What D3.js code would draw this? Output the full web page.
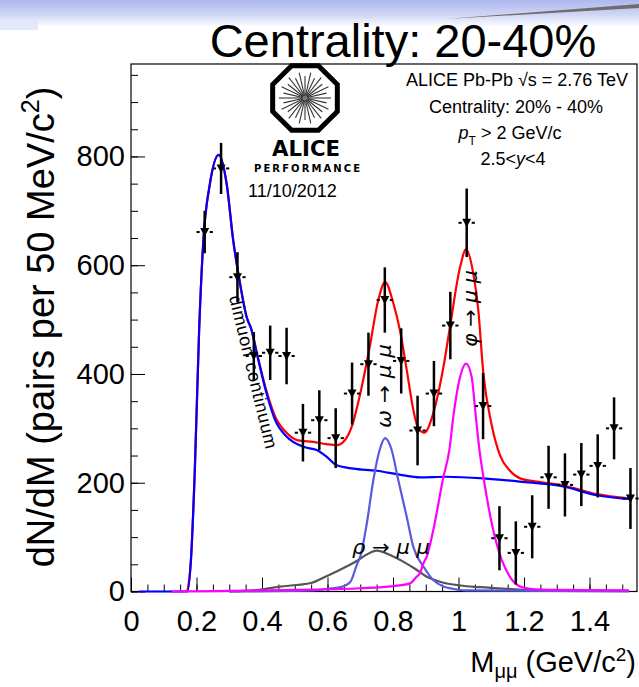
<!DOCTYPE html>
<html>
<head>
<meta charset="utf-8">
<script src="https://cdn.jsdelivr.net/npm/d3@7"></script>
<style>
  body { margin: 0; background: #fff; }
  text { font-family: "Liberation Sans", Arial, Helvetica, sans-serif; fill: #000; }
</style>
</head>
<body>
<svg id="chart"></svg>
<script>
// measured dimuon spectrum, bins of 50 MeV
const massBins = [0.225, 0.275, 0.325, 0.375, 0.425, 0.475, 0.525, 0.575, 0.625, 0.675, 0.725, 0.775, 0.825, 0.875,
                  0.925, 0.975, 1.025, 1.075, 1.125, 1.175, 1.225, 1.275, 1.325, 1.375, 1.425, 1.475, 1.525];
const counts = [661, 778, 578, 433, 439, 433, 292, 315, 282, 364, 418, 536, 424, 296,
                364, 489, 678, 341, 98, 71, 119, 210, 196, 215, 231, 300, 171];
const errors = [39, 47, 46, 44, 50, 52, 53, 55, 55, 57, 58, 60, 60, 64,
                60, 62, 63, 61, 59, 58, 58, 58, 58, 58, 58, 57, 56];

// fit components
const totalMass = [0.172, 0.183, 0.195, 0.208, 0.221, 0.241, 0.268, 0.292, 0.312, 0.333, 0.353, 0.368, 0.384, 0.414, 0.44, 0.475,
                   0.51, 0.557, 0.597, 0.628, 0.653, 0.674, 0.70, 0.729, 0.755, 0.776, 0.801, 0.821, 0.842, 0.862, 0.877, 0.896,
                   0.923, 0.954, 0.974, 1.005, 1.023, 1.045, 1.06, 1.076, 1.10, 1.127, 1.157, 1.188, 1.239, 1.32, 1.422, 1.524];
const totalVals = [0, 58, 226, 480, 646, 750, 803, 750, 646, 566, 505, 481, 440, 368, 322, 292,
                   278, 275, 271, 269, 278, 303, 364, 450, 536, 569, 530, 481, 407, 334, 300, 292,
                   328, 413, 487, 597, 629, 585, 520, 400, 310, 250, 222, 208, 202, 195, 179, 171];

const contMass = [0.025, 0.172, 0.183, 0.195, 0.208, 0.221, 0.241, 0.268, 0.292, 0.312, 0.333, 0.353, 0.368, 0.384, 0.414, 0.44,
                  0.475, 0.526, 0.567, 0.597, 0.628, 0.679, 0.75, 0.82, 0.882, 0.96, 1.076, 1.188, 1.32, 1.422, 1.524];
const contVals = [0, 0, 58, 226, 480, 646, 750, 803, 750, 646, 566, 505, 481, 438, 364, 315,
                  285, 266, 260, 248, 232, 226, 222, 215, 210, 211, 208, 202, 193, 177, 170];

const omegaMass = [0.3, 0.55, 0.6, 0.64, 0.67, 0.69, 0.70, 0.72, 0.74, 0.76, 0.776, 0.795, 0.816, 0.842, 0.862,
                   0.893, 0.923, 0.954, 0.983, 1.02, 1.52];
const omegaVals = [0, 2, 5, 8, 18, 50, 64, 125, 205, 262, 282, 262, 205, 137, 82,
                   46, 21, 9, 5, 2, 0];

const phiMass = [0.124, 0.3, 0.5, 0.7, 0.801, 0.852, 0.872, 0.882, 0.893, 0.903, 0.923, 0.954, 0.972, 0.984,
                 1.005, 1.023, 1.04, 1.053, 1.064, 1.076, 1.106, 1.132, 1.157, 1.188, 1.218, 1.3, 1.52];
const phiVals = [0, 1, 3, 6, 10, 15, 27, 33, 52, 64, 113, 211, 260, 321,
                 395, 419, 395, 321, 260, 211, 113, 58, 27, 9, 5, 3, 2];

const rhoMass = [0.3, 0.404, 0.455, 0.506, 0.552, 0.597, 0.658, 0.689, 0.72, 0.75, 0.791, 0.831, 0.872, 0.903,
                 0.943, 1.005, 1.066, 1.147, 1.25, 1.52];
const rhoVals = [0, 4, 9, 12, 16, 28, 46, 56, 68, 75, 67, 55, 40, 27,
                 18, 11, 8, 5, 2, 1];

const xTicks = [0, 0.2, 0.4, 0.6, 0.8, 1.0, 1.2, 1.4];
const xTickLabels = ["0", "0.2", "0.4", "0.6", "0.8", "1", "1.2", "1.4"];
const yTicks = [0, 200, 400, 600, 800];

const width = 639, height = 687;
const frame = { left: 131, top: 64, right: 637, bottom: 591.5 };

const svg = d3.select("#chart").attr("width", width).attr("height", height);

// slide banner at the top
const defs = svg.append("defs");
const band = defs.append("linearGradient").attr("id", "band")
    .attr("x1", "0%").attr("x2", "0%").attr("y1", "0%").attr("y2", "100%");
band.append("stop").attr("offset", "0%").attr("stop-color", "#aeb7ee");
band.append("stop").attr("offset", "55%").attr("stop-color", "#d0d6f6");
band.append("stop").attr("offset", "100%").attr("stop-color", "#ffffff");
svg.append("rect").attr("x", 0).attr("y", 0).attr("width", width).attr("height", 27).attr("fill", "url(#band)");
svg.append("rect").attr("x", 0).attr("y", 20).attr("width", 38).attr("height", 10).attr("fill", "#e3e7fa");
svg.append("path")
    .attr("d", "M445,19 L639,4 L639,8 Z")
    .attr("fill", "#6e6e6e");

svg.append("text")
    .attr("x", 403).attr("y", 57)
    .attr("text-anchor", "middle")
    .style("font-size", "47px")
    .text("Centrality: 20-40%");

const x = d3.scaleLinear().domain([0, 1.545]).range([frame.left, frame.right]);
const y = d3.scaleLinear().domain([0, 970]).range([frame.bottom, frame.top]);

// ticks (inside the frame, ROOT style)
const xMinor = d3.range(0, 31).map(i => i * 0.05);
const yMinor = d3.range(0, 20).map(i => i * 50);

svg.append("g")
    .attr("transform", `translate(0,${frame.bottom})`)
    .call(d3.axisBottom(x).tickValues(xMinor).tickSize(-7).tickFormat(""))
    .call(g => g.select(".domain").remove());
svg.append("g")
    .attr("transform", `translate(0,${frame.bottom})`)
    .call(d3.axisBottom(x).tickValues(xTicks).tickSize(-14).tickPadding(19)
        .tickFormat((d, i) => xTickLabels[i]))
    .call(g => g.select(".domain").remove())
    .call(g => g.selectAll("text").style("font-size", "29px")
        .style("font-family", '"Liberation Sans", Arial, sans-serif'));

svg.append("g")
    .attr("transform", `translate(${frame.left},0)`)
    .call(d3.axisLeft(y).tickValues(yMinor).tickSize(-7).tickFormat(""))
    .call(g => g.select(".domain").remove());
svg.append("g")
    .attr("transform", `translate(${frame.left},0)`)
    .call(d3.axisLeft(y).tickValues(yTicks).tickSize(-14).tickPadding(6).tickFormat(d3.format("d")))
    .call(g => g.select(".domain").remove())
    .call(g => g.selectAll("text").style("font-size", "29px")
        .style("font-family", '"Liberation Sans", Arial, sans-serif'));

svg.selectAll(".tick line").attr("stroke", "#000");

svg.append("rect")
    .attr("x", frame.left).attr("y", frame.top)
    .attr("width", frame.right - frame.left).attr("height", frame.bottom - frame.top)
    .attr("fill", "none").attr("stroke", "#000").attr("stroke-width", 1.2);

// axis titles
const xTitle = svg.append("text")
    .attr("x", 636).attr("y", 672)
    .attr("text-anchor", "end")
    .style("font-size", "29px");
xTitle.append("tspan").text("M");
xTitle.append("tspan").attr("dy", 6).style("font-size", "20px").text("μμ");
xTitle.append("tspan").attr("dy", -6).text(" (GeV/c");
xTitle.append("tspan").attr("dy", -11).style("font-size", "19px").text("2");
xTitle.append("tspan").attr("dy", 11).text(")");

const yTitle = svg.append("text")
    .attr("transform", "translate(54,327) rotate(-90)")
    .attr("text-anchor", "middle")
    .style("font-size", "38px");
yTitle.append("tspan").text("dN/dM (pairs per 50 MeV/c");
yTitle.append("tspan").attr("dy", -15).style("font-size", "25px").text("2");
yTitle.append("tspan").attr("dy", 15).text(")");

// curves
const line = d3.line()
    .x(d => x(d[0]))
    .y(d => y(d[1]))
    .curve(d3.curveMonotoneX);

const curves = [
    { m: totalMass, v: totalVals, color: "#ff0000" },
    { m: contMass, v: contVals, color: "#0000ff" },
    { m: rhoMass, v: rhoVals, color: "#555555" },
    { m: omegaMass, v: omegaVals, color: "#5a5ae0" },
    { m: phiMass, v: phiVals, color: "#ff00ff" }
];

svg.append("g").selectAll("path")
    .data(curves)
    .join("path")
    .attr("d", c => line(c.m.map((m, i) => [m, c.v[i]])))
    .attr("fill", "none")
    .attr("stroke", c => c.color)
    .attr("stroke-width", 2.2);

// data points
const points = massBins.map((m, i) => ({ m: m, n: counts[i], e: errors[i] }));
const pts = svg.append("g").selectAll("g")
    .data(points)
    .join("g");

pts.append("line")
    .attr("x1", d => x(d.m)).attr("x2", d => x(d.m))
    .attr("y1", d => y(d.n + d.e)).attr("y2", d => y(d.n - d.e))
    .attr("stroke", "#000").attr("stroke-width", 2.5);
pts.append("line")
    .attr("x1", d => x(d.m - 0.025)).attr("x2", d => x(d.m) - 5)
    .attr("y1", d => y(d.n)).attr("y2", d => y(d.n))
    .attr("stroke", "#000").attr("stroke-width", 2);
pts.append("line")
    .attr("x1", d => x(d.m) + 5).attr("x2", d => x(d.m + 0.025))
    .attr("y1", d => y(d.n)).attr("y2", d => y(d.n))
    .attr("stroke", "#000").attr("stroke-width", 2);
pts.append("path")
    .attr("d", d => {
        const cx = x(d.m), cy = y(d.n);
        return `M${cx - 4.5},${cy - 4} L${cx + 4.5},${cy - 4} L${cx},${cy + 4.5} Z`;
    })
    .attr("fill", "#000");

// curve labels
svg.append("text")
    .attr("transform", "translate(229,297) rotate(76.5)")
    .style("font-size", "18px")
    .attr("textLength", 157)
    .text("dimuon continuum");

const decayLabels = [
    { text: "ω → μ μ", tx: 391, ty: 428, rot: -90, len: 84 },
    { text: "φ → μ μ", tx: 477, ty: 347, rot: -90, len: 77 },
    { text: "ρ → μ μ", tx: 352, ty: 554, rot: 0, len: 78 }
];
svg.append("g").selectAll("text")
    .data(decayLabels)
    .join("text")
    .attr("transform", d => `translate(${d.tx},${d.ty}) rotate(${d.rot})`)
    .style("font-family", '"DejaVu Sans", sans-serif')
    .style("font-style", "italic")
    .style("font-size", "20px")
    .attr("textLength", d => d.len)
    .attr("lengthAdjust", "spacingAndGlyphs")
    .text(d => d.text);

// info block
const info = svg.append("g").attr("text-anchor", "middle").style("font-size", "18px");
info.append("text").attr("x", 517).attr("y", 86).text("ALICE Pb-Pb √s = 2.76 TeV");
info.append("text").attr("x", 516).attr("y", 113).text("Centrality: 20% - 40%");
const ptText = info.append("text").attr("x", 510).attr("y", 139);
ptText.append("tspan").style("font-style", "italic").text("p");
ptText.append("tspan").attr("dy", 6).style("font-size", "12px").text("T");
ptText.append("tspan").attr("dy", -6).text(" > 2 GeV/c");
const yText = info.append("text").attr("x", 513).attr("y", 165);
yText.append("tspan").text("2.5<");
yText.append("tspan").style("font-style", "italic").text("y");
yText.append("tspan").text("<4");

// ALICE performance logo
const logo = svg.append("g").attr("transform", "translate(305,98)");
const octR = 35;
const octagon = d3.range(8).map(k => {
    const a = Math.PI / 8 + k * Math.PI / 4;
    return [octR * Math.cos(a), octR * Math.sin(a)];
});
logo.append("path")
    .attr("d", "M" + octagon.join("L") + "Z")
    .attr("fill", "none").attr("stroke", "#000").attr("stroke-width", 5);
logo.append("g").selectAll("line")
    .data(d3.range(28))
    .join("line")
    .attr("x1", 0).attr("y1", 0)
    .attr("x2", k => (k % 2 ? 22 : 26) * Math.cos(k * Math.PI / 14))
    .attr("y2", k => (k % 2 ? 22 : 26) * Math.sin(k * Math.PI / 14))
    .attr("stroke", "#333").attr("stroke-width", 1.1);
logo.append("circle").attr("r", 2.5).attr("fill", "#777");

svg.append("text")
    .attr("x", 306).attr("y", 156)
    .attr("text-anchor", "middle")
    .style("font-family", '"DejaVu Sans", sans-serif')
    .style("font-weight", "bold")
    .style("font-size", "22px")
    .attr("textLength", 68)
    .attr("lengthAdjust", "spacingAndGlyphs")
    .text("ALICE");
svg.append("text")
    .attr("x", 307).attr("y", 172)
    .attr("text-anchor", "middle")
    .style("font-family", '"DejaVu Sans", sans-serif')
    .style("font-weight", "bold")
    .style("font-size", "10px")
    .attr("textLength", 106)
    .text("PERFORMANCE");
svg.append("text")
    .attr("x", 248).attr("y", 197)
    .style("font-size", "18px")
    .text("11/10/2012");
</script>
</body>
</html>
